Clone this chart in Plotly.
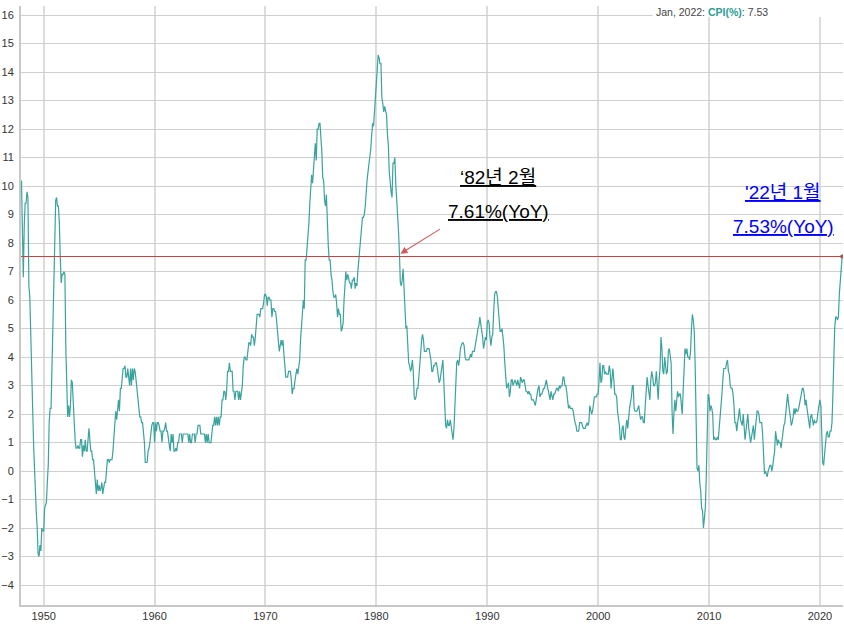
import pandas as pd
import plotly.graph_objects as go

# Monthly US CPI year-over-year change (%), Jan 1948 .. Jan 2022
cpi_yoy = [
    10.2, 7.5, 6.8, 8.6, 9.4, 9.4, 9.8, 9.6, 6.5, 6.1, 4.8, 3.0,        # 1948
    1.3, 1.0, 0.2, -0.9, -1.4, -2.0, -2.9, -3.0, -2.6, -2.8, -2.0, -2.1,  # 1949
    -2.1, -1.3, -1.2, -1.1, -0.4, 0.2, 1.7, 2.2, 2.2, 3.7, 4.2, 5.9,      # 1950
    8.1, 9.5, 9.6, 9.3, 9.3, 8.7, 7.5, 6.6, 6.9, 6.9, 7.0, 6.9,        # 1951
    4.3, 2.3, 1.9, 2.3, 1.9, 2.3, 3.2, 3.1, 2.2, 1.9, 1.1, 0.8,        # 1952
    0.8, 0.9, 0.8, 0.8, 1.1, 1.1, 0.5, 0.9, 0.7, 1.1, 0.7, 0.7,        # 1953
    1.1, 1.5, 1.1, 0.7, 0.7, 0.4, 0.4, 0.0, -0.4, -0.8, -0.3, -0.7,    # 1954
    -0.5, -0.7, -0.6, -0.4, -0.8, -0.6, -0.4, -0.4, 0.1, 0.4, 0.4, 0.3, # 1955
    0.4, 0.4, 0.4, 0.7, 1.1, 1.8, 2.1, 1.8, 2.1, 2.5, 2.1, 2.9,        # 1956
    2.9, 3.3, 3.6, 3.6, 3.7, 3.3, 3.3, 3.6, 3.2, 3.0, 3.6, 3.0,        # 1957
    3.6, 3.2, 3.6, 3.5, 3.2, 2.8, 2.4, 2.1, 1.9, 1.9, 1.7, 1.7,        # 1958
    1.4, 1.0, 0.3, 0.3, 0.3, 0.7, 0.8, 1.0, 1.4, 1.6, 1.7, 1.7,        # 1959
    1.0, 1.7, 1.4, 1.7, 1.7, 1.6, 1.4, 1.4, 1.0, 1.4, 1.4, 1.5,        # 1960
    1.7, 1.4, 1.4, 1.0, 0.9, 0.7, 1.3, 1.0, 1.3, 0.7, 0.7, 0.8,        # 1961
    0.7, 1.0, 1.0, 1.3, 1.3, 1.3, 1.0, 1.3, 1.3, 1.3, 1.3, 1.3,        # 1962
    1.3, 1.0, 1.3, 1.0, 1.0, 1.3, 1.3, 1.3, 1.0, 1.3, 1.3, 1.6,        # 1963
    1.6, 1.6, 1.3, 1.3, 1.3, 1.3, 1.3, 1.0, 1.3, 1.0, 1.3, 1.0,        # 1964
    1.0, 1.0, 1.3, 1.6, 1.6, 1.9, 1.6, 1.9, 1.6, 1.9, 1.6, 1.9,        # 1965
    1.9, 2.5, 2.5, 2.8, 2.8, 2.5, 2.8, 3.5, 3.5, 3.8, 3.5, 3.5,        # 1966
    3.5, 2.8, 2.8, 2.5, 2.8, 2.8, 2.8, 2.5, 2.8, 2.5, 2.8, 3.0,        # 1967
    3.7, 4.0, 4.0, 3.9, 3.9, 4.2, 4.5, 4.5, 4.4, 4.8, 4.7, 4.7,        # 1968
    4.4, 4.7, 5.3, 5.5, 5.5, 5.5, 5.4, 5.7, 5.7, 5.7, 5.9, 6.2,        # 1969
    6.2, 6.1, 5.8, 6.1, 6.1, 6.0, 6.0, 5.4, 5.7, 5.7, 5.6, 5.6,        # 1970
    5.3, 5.0, 4.7, 4.2, 4.4, 4.6, 4.4, 4.6, 4.1, 3.8, 3.3, 3.3,        # 1971
    3.3, 3.5, 3.5, 3.5, 3.2, 2.7, 2.9, 2.9, 3.2, 3.4, 3.6, 3.4,        # 1972
    3.6, 3.9, 4.6, 5.1, 5.5, 6.0, 5.7, 7.4, 7.4, 7.8, 8.3, 8.7,        # 1973
    9.4, 10.0, 10.4, 10.1, 10.7, 10.9, 11.5, 10.9, 12.0, 12.0, 12.2, 12.2,  # 1974
    11.8, 11.2, 10.3, 10.2, 9.5, 9.3, 9.7, 8.6, 7.9, 7.4, 7.4, 6.9,    # 1975
    6.7, 6.3, 6.1, 6.1, 6.2, 5.9, 5.4, 5.7, 5.5, 5.5, 4.9, 5.0,        # 1976
    5.2, 6.0, 6.4, 7.0, 6.7, 6.9, 6.8, 6.6, 6.6, 6.4, 6.7, 6.7,        # 1977
    6.8, 6.4, 6.6, 6.5, 7.0, 7.4, 7.7, 7.9, 8.3, 8.9, 8.9, 9.0,        # 1978
    9.3, 9.9, 10.2, 10.5, 10.8, 10.9, 11.3, 11.8, 12.2, 12.1, 12.6, 13.3,  # 1979
    13.9, 14.2, 14.6, 14.5, 14.3, 14.3, 13.1, 12.9, 12.6, 12.8, 12.6, 12.5,  # 1980
    11.8, 11.4, 10.5, 10.0, 9.8, 9.6, 10.8, 10.8, 11.0, 10.1, 9.6, 8.9,  # 1981
    8.4, 7.61, 6.6, 6.5, 6.7, 7.1, 6.4, 5.9, 5.0, 5.1, 4.6, 3.8,       # 1982
    3.7, 3.5, 3.6, 3.9, 3.5, 2.6, 2.5, 2.6, 2.9, 2.9, 3.3, 3.8,        # 1983
    4.2, 4.6, 4.8, 4.6, 4.2, 4.2, 4.2, 4.3, 4.3, 4.3, 4.1, 3.9,        # 1984
    3.5, 3.5, 3.7, 3.7, 3.8, 3.8, 3.6, 3.3, 3.1, 3.2, 3.5, 3.8,        # 1985
    3.9, 3.1, 2.2, 1.6, 1.5, 1.8, 1.6, 1.6, 1.8, 1.5, 1.3, 1.1,        # 1986
    1.5, 2.1, 3.0, 3.8, 3.9, 3.7, 3.9, 4.3, 4.4, 4.5, 4.5, 4.4,        # 1987
    4.0, 3.9, 3.9, 3.9, 3.9, 4.0, 4.1, 4.0, 4.2, 4.2, 4.2, 4.4,        # 1988
    4.7, 4.8, 5.0, 5.1, 5.4, 5.2, 5.0, 4.7, 4.3, 4.5, 4.7, 4.6,        # 1989
    5.2, 5.3, 5.2, 4.7, 4.4, 4.7, 4.8, 5.6, 6.2, 6.3, 6.3, 6.1,        # 1990
    5.7, 5.3, 4.9, 4.9, 5.0, 4.7, 4.4, 3.8, 3.4, 2.9, 3.0, 3.1,        # 1991
    2.6, 2.8, 3.2, 3.2, 3.0, 3.1, 3.2, 3.1, 3.0, 3.2, 3.0, 2.9,        # 1992
    3.3, 3.2, 3.1, 3.2, 3.2, 3.0, 2.8, 2.8, 2.7, 2.8, 2.7, 2.7,        # 1993
    2.5, 2.5, 2.5, 2.4, 2.3, 2.5, 2.8, 2.9, 3.0, 2.6, 2.7, 2.7,        # 1994
    2.8, 2.9, 2.9, 3.1, 3.2, 3.0, 2.8, 2.6, 2.5, 2.8, 2.6, 2.5,        # 1995
    2.7, 2.7, 2.8, 2.9, 2.9, 2.8, 3.0, 2.9, 3.0, 3.0, 3.3, 3.3,        # 1996
    3.0, 3.0, 2.8, 2.5, 2.2, 2.3, 2.2, 2.2, 2.2, 2.1, 1.8, 1.7,        # 1997
    1.6, 1.4, 1.4, 1.4, 1.7, 1.7, 1.7, 1.6, 1.5, 1.5, 1.5, 1.6,        # 1998
    1.7, 1.6, 1.7, 2.3, 2.1, 2.0, 2.1, 2.3, 2.6, 2.6, 2.6, 2.7,        # 1999
    2.7, 3.2, 3.8, 3.1, 3.2, 3.7, 3.7, 3.4, 3.5, 3.4, 3.4, 3.4,        # 2000
    3.7, 3.5, 2.9, 3.3, 3.6, 3.2, 2.7, 2.7, 2.6, 2.1, 1.9, 1.6,        # 2001
    1.1, 1.1, 1.5, 1.6, 1.2, 1.1, 1.5, 1.8, 1.5, 2.0, 2.2, 2.4,        # 2002
    2.6, 3.0, 3.0, 2.2, 2.1, 2.1, 2.1, 2.2, 2.3, 2.0, 1.8, 1.9,        # 2003
    1.9, 1.7, 1.7, 2.3, 3.1, 3.3, 3.0, 2.7, 2.5, 3.2, 3.5, 3.3,        # 2004
    3.0, 3.0, 3.1, 3.5, 2.8, 2.5, 3.2, 3.6, 4.7, 4.3, 3.5, 3.4,        # 2005
    4.0, 3.6, 3.4, 3.5, 4.2, 4.3, 4.1, 3.8, 2.1, 1.3, 2.0, 2.5,        # 2006
    2.1, 2.4, 2.8, 2.6, 2.7, 2.7, 2.4, 2.0, 2.8, 3.5, 4.3, 4.1,        # 2007
    4.3, 4.0, 4.0, 3.9, 4.2, 5.0, 5.5, 5.3, 4.9, 3.7, 1.1, 0.1,        # 2008
    0.0, 0.2, -0.4, -0.7, -1.3, -1.4, -2.0, -1.5, -1.3, -0.2, 1.8, 2.7,  # 2009
    2.6, 2.1, 2.3, 2.2, 2.0, 1.1, 1.2, 1.1, 1.1, 1.2, 1.1, 1.5,        # 2010
    1.6, 2.1, 2.7, 3.2, 3.6, 3.6, 3.6, 3.8, 3.9, 3.5, 3.4, 3.0,        # 2011
    2.9, 2.9, 2.7, 2.3, 1.7, 1.7, 1.4, 1.7, 2.0, 2.2, 1.8, 1.7,        # 2012
    1.6, 2.0, 1.5, 1.1, 1.4, 1.8, 2.0, 1.5, 1.2, 1.0, 1.2, 1.5,        # 2013
    1.6, 1.1, 1.5, 2.0, 2.1, 2.1, 2.0, 1.7, 1.7, 1.7, 1.3, 0.8,        # 2014
    -0.1, 0.0, -0.1, -0.2, 0.0, 0.1, 0.2, 0.2, 0.0, 0.2, 0.5, 0.7,     # 2015
    1.4, 1.0, 0.9, 1.1, 1.0, 1.0, 0.8, 1.1, 1.5, 1.6, 1.7, 2.1,        # 2016
    2.5, 2.7, 2.4, 2.2, 1.9, 1.6, 1.7, 1.9, 2.2, 2.0, 2.2, 2.1,        # 2017
    2.1, 2.2, 2.4, 2.5, 2.8, 2.9, 2.9, 2.7, 2.3, 2.5, 2.2, 1.9,        # 2018
    1.6, 1.5, 1.9, 2.0, 1.8, 1.6, 1.8, 1.7, 1.7, 1.8, 2.1, 2.3,        # 2019
    2.5, 2.3, 1.5, 0.3, 0.2, 0.6, 1.0, 1.3, 1.4, 1.2, 1.2, 1.4,        # 2020
    1.4, 1.7, 2.6, 4.2, 5.0, 5.4, 5.4, 5.3, 5.4, 6.2, 6.8, 7.0,        # 2021
    7.53,                                                              # 2022
]
start_month = "1948-01-01"
dates = pd.date_range(start_month, periods=len(cpi_yoy), freq="MS")

ref_level = 7.53
x_range = ["1947-12-16", "2022-01-30"]
y_range = [-4.70, 16.32]
y_ticks = list(range(-4, 17))
x_tick_years = ["1950-01-01", "1960-01-01", "1970-01-01", "1980-01-01",
                "1990-01-01", "2000-01-01", "2010-01-01", "2020-01-01"]
x_tick_labels = ["1950", "1960", "1970", "1980", "1990", "2000", "2010", "2020"]

peak_label = ["‘82년 2월", "7.61%(YoY)"]
peak_date = "1982-02-01"
peak_value = 7.61
last_label = ["'22년 1월", "7.53%(YoY)"]
hover_text = "Jan, 2022: <span style='color:#2a9d96'><b>CPI(%)</b></span>: 7.53"

FONT = "Liberation Sans, Arial, Noto Sans CJK KR, sans-serif"
TEAL = "#3aa39d"
RED = "#cc4040"

fig = go.Figure()
fig.add_trace(go.Scatter(
    x=dates, y=cpi_yoy, mode="lines",
    line=dict(color=TEAL, width=1.2),
    hoverinfo="skip", showlegend=False,
))
# reference line at latest level
fig.add_trace(go.Scatter(
    x=[x_range[0], x_range[1]], y=[ref_level, ref_level], mode="lines",
    line=dict(color=RED, width=1.2), hoverinfo="skip", showlegend=False,
))
fig.add_trace(go.Scatter(
    x=[dates[-1]], y=[cpi_yoy[-1]], mode="markers",
    marker=dict(color="#b05050", size=4, symbol="circle"),
    hoverinfo="skip", showlegend=False,
))

W, H = 844, 624
ML, MR, MT, MB = 18, 1, 6, 19
PW, PH = W - ML - MR, H - MT - MB


def px_to_paper(px, py):
    return (px - ML) / PW, (H - MB - py) / PH


annotations = []
for txt, (px, py) in zip(peak_label, [(497, 178), (497, 212)]):
    xp, yp = px_to_paper(px, py)
    annotations.append(dict(
        xref="paper", yref="paper", x=xp, y=yp, text=f"<u>{txt}</u>",
        showarrow=False, font=dict(family=FONT, size=19, color="#000000"),
        xanchor="center", yanchor="middle"))
for txt, (px, py) in zip(last_label, [(783, 192), (783, 227)]):
    xp, yp = px_to_paper(px, py)
    annotations.append(dict(
        xref="paper", yref="paper", x=xp, y=yp, text=f"<u>{txt}</u>",
        showarrow=False, font=dict(family=FONT, size=19, color="#0000ff"),
        xanchor="center", yanchor="middle"))
annotations.append(dict(
    x=peak_date, y=peak_value, xref="x", yref="y", text="",
    showarrow=True, arrowhead=2, arrowsize=1.3, arrowwidth=1.1,
    arrowcolor="#d05a5a", ax=42, ay=-26, standoff=1))
hx, hy = px_to_paper(712, 12)
annotations.append(dict(
    xref="paper", yref="paper", x=hx, y=hy, text=hover_text,
    showarrow=False, font=dict(family=FONT, size=10.5, color="#444444"),
    xanchor="center", yanchor="middle"))

x0p, y0p = px_to_paper(652, 17)
fig.update_layout(
    width=W, height=H,
    margin=dict(l=ML, r=MR, t=MT, b=MB),
    paper_bgcolor="white", plot_bgcolor="white",
    font=dict(family=FONT, size=11, color="#333333"),
    showlegend=False,
    annotations=annotations,
    shapes=[dict(type="rect", xref="paper", yref="paper",
                 x0=x0p, x1=1.01, y0=y0p, y1=1.02,
                 fillcolor="white", line=dict(width=0), layer="above")],
    xaxis=dict(
        range=x_range, type="date",
        tickvals=x_tick_years, ticktext=x_tick_labels,
        showgrid=True, gridcolor="#dcdcdc", gridwidth=2,
        showline=True, linecolor="#c8c8c8", linewidth=2,
        zeroline=False, ticks="", tickfont=dict(size=11, color="#333333"),
    ),
    yaxis=dict(
        range=y_range, tickvals=y_ticks,
        showgrid=True, gridcolor="#cfcfcf", gridwidth=1,
        showline=True, linecolor="#c8c8c8", linewidth=2,
        zeroline=False, ticks="", ticklabelstandoff=3,
        tickfont=dict(size=11, color="#333333"),
    ),
)

fig.write_html("out.html")
